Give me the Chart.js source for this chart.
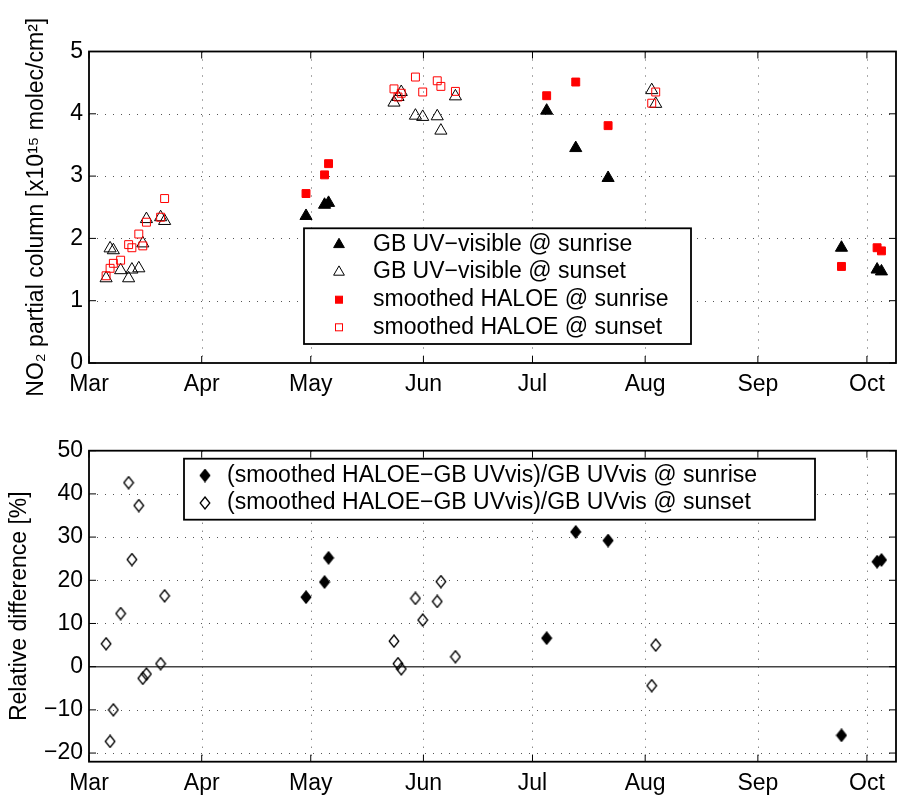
<!DOCTYPE html>
<html>
<head>
<meta charset="utf-8">
<script src="https://cdn.jsdelivr.net/npm/chart.js@4.4.0/dist/chart.umd.min.js"></script>
<style>
  html, body { margin: 0; padding: 0; background: #fff; }
  #wrap { position: relative; width: 897px; height: 795px; }
  #topBox { position: absolute; left: 0; top: 0; width: 897px; height: 400px; }
  #botBox { position: absolute; left: 0; top: 400px; width: 897px; height: 395px; }
</style>
</head>
<body>
<div id="wrap">
  <div id="topBox"><canvas id="topChart" width="897" height="400"></canvas></div>
  <div id="botBox"><canvas id="botChart" width="897" height="395"></canvas></div>
</div>
<script>
// x values are days counted from 1 March
const monthStarts = [0, 31, 61, 92, 122, 153, 184, 214];
const monthLabels = ['Mar', 'Apr', 'May', 'Jun', 'Jul', 'Aug', 'Sep', 'Oct'];

const sunriseDays = [59.7, 64.8, 65.9, 125.9, 133.9, 142.8, 207.0, 216.8, 218.0];
const sunsetDays = [4.7, 5.8, 6.7, 8.7, 10.9, 11.8, 13.7, 14.8, 15.8, 19.7, 20.8,
                    83.9, 85.0, 85.9, 89.8, 91.8, 95.8, 96.8, 100.8, 154.8, 155.9];

// NO2 partial column, x10^15 molec/cm2
const gbSunrise = [2.36, 2.54, 2.57, 4.05, 3.45, 2.97, 1.85, 1.50, 1.47];
const gbSunset = [1.36, 1.84, 1.81, 1.49, 1.36, 1.50, 1.52, 1.92, 2.31, 2.34, 2.28,
                  4.18, 4.27, 4.35, 3.97, 3.95, 3.96, 3.73, 4.28, 4.38, 4.16];
const haloeSunrise = [2.72, 3.02, 3.20, 4.29, 4.51, 3.81, 1.55, 1.85, 1.80];
const haloeSunset = [1.40, 1.52, 1.60, 1.65, 1.90, 1.85, 2.07, 1.88, 2.26, 2.34, 2.64,
                     4.40, 4.27, 4.33, 4.59, 4.35, 4.53, 4.44, 4.36, 4.17, 4.35];

// relative difference, %
const diffSunrise = [16.1, 19.6, 25.2, 6.6, 31.2, 29.2, -15.9, 24.3, 24.7];
const diffSunset = [5.3, -17.3, -10.0, 12.3, 42.6, 24.8, 37.3, -2.7, -1.7, 0.7, 16.4,
                    5.9, 0.7, -0.5, 15.8, 10.8, 15.1, 19.7, 2.3, -4.4, 5.0];

const topTicks = [0, 1, 2, 3, 4, 5];
const bottomTicks = [-20, -10, 0, 10, 20, 30, 40, 50];

const FONT = '"Liberation Sans", Arial, Helvetica, sans-serif';
const pts = (xs, ys) => xs.map((x, i) => ({ x: x, y: ys[i] }));

function diamond(filled) {
  const c = document.createElement('canvas');
  c.width = 12; c.height = 14;
  const g = c.getContext('2d');
  g.beginPath();
  g.moveTo(6, 1); g.lineTo(10.8, 7); g.lineTo(6, 13); g.lineTo(1.2, 7);
  g.closePath();
  if (filled) { g.fillStyle = '#000'; g.fill(); }
  g.lineWidth = 1.3; g.strokeStyle = '#000'; g.stroke();
  return c;
}
const diamondFull = diamond(true);
const diamondOpen = diamond(false);

// dotted grid, zero line, box and inward ticks
const framePlugin = {
  id: 'frame',
  beforeDatasetsDraw(chart, args, o) {
    const { ctx, chartArea: a, scales: { x, y } } = chart;
    ctx.save();
    ctx.strokeStyle = '#555';
    ctx.lineWidth = 1;
    ctx.setLineDash([1, 7]);
    ctx.beginPath();
    x.ticks.forEach(t => {
      const px = Math.round(x.getPixelForValue(t.value)) + 0.5;
      if (px > a.left + 3 && px < a.right - 3) { ctx.moveTo(px, a.top); ctx.lineTo(px, a.bottom); }
    });
    y.ticks.forEach(t => {
      if (o.zeroLine && t.value === 0) return;
      const py = Math.round(y.getPixelForValue(t.value)) + 0.5;
      if (py > a.top + 3 && py < a.bottom - 3) { ctx.moveTo(a.left, py); ctx.lineTo(a.right, py); }
    });
    ctx.stroke();
    ctx.setLineDash([]);
    if (o.zeroLine) {
      const py = y.getPixelForValue(0);
      ctx.strokeStyle = '#444';
      ctx.lineWidth = 1.5;
      ctx.beginPath(); ctx.moveTo(a.left, py); ctx.lineTo(a.right, py); ctx.stroke();
    }
    ctx.restore();
  },
  afterDatasetsDraw(chart) {
    const { ctx, chartArea: a, scales: { x, y } } = chart;
    const tl = 7;
    ctx.save();
    ctx.strokeStyle = '#000';
    ctx.lineWidth = 1;
    ctx.beginPath();
    x.ticks.forEach(t => {
      const px = x.getPixelForValue(t.value);
      ctx.moveTo(px, a.bottom); ctx.lineTo(px, a.bottom - tl);
      ctx.moveTo(px, a.top); ctx.lineTo(px, a.top + tl);
    });
    y.ticks.forEach(t => {
      const py = y.getPixelForValue(t.value);
      ctx.moveTo(a.left, py); ctx.lineTo(a.left + tl, py);
      ctx.moveTo(a.right, py); ctx.lineTo(a.right - tl, py);
    });
    ctx.stroke();
    ctx.lineWidth = 1.8;
    ctx.strokeRect(a.left, a.top, a.right - a.left, a.bottom - a.top);
    ctx.restore();
  }
};

function drawMarker(ctx, ds, x, y) {
  const s = ds.pointStyle;
  ctx.lineWidth = 1;
  ctx.strokeStyle = ds.borderColor;
  ctx.fillStyle = ds.backgroundColor;
  if (s === 'triangle') {
    const r = 6.2;
    ctx.beginPath();
    ctx.moveTo(x, y - r);
    ctx.lineTo(x + 0.866 * r, y + 0.5 * r);
    ctx.lineTo(x - 0.866 * r, y + 0.5 * r);
    ctx.closePath();
    ctx.fill(); ctx.stroke();
  } else if (s === 'rect') {
    const h = 3.5;
    ctx.fillRect(x - h, y - h, 2 * h, 2 * h);
    ctx.strokeRect(x - h, y - h, 2 * h, 2 * h);
  } else {
    ctx.drawImage(s, x - s.width / 2, y - s.height / 2);
  }
}

const legendPlugin = {
  id: 'boxLegend',
  afterDraw(chart, args, o) {
    const ctx = chart.ctx;
    ctx.save();
    ctx.fillStyle = '#fff';
    ctx.fillRect(o.left, o.top, o.right - o.left, o.bottom - o.top);
    ctx.lineWidth = 1.8;
    ctx.strokeStyle = '#000';
    ctx.strokeRect(o.left, o.top, o.right - o.left, o.bottom - o.top);
    ctx.font = '23px ' + FONT;
    ctx.textBaseline = 'middle';
    ctx.textAlign = 'left';
    chart.data.datasets.forEach((ds, i) => {
      const y = o.firstRow + i * o.rowGap;
      drawMarker(ctx, ds, o.markerX, y);
      ctx.fillStyle = '#000';
      ctx.fillText(ds.label, o.textX, y);
    });
    ctx.restore();
  }
};

function xScale(h) {
  return {
    type: 'linear', min: 0, max: 222,
    afterBuildTicks: s => { s.ticks = monthStarts.map(v => ({ value: v })); },
    afterFit: s => { s.height = h; s.paddingLeft = 0; s.paddingRight = 0; },
    grid: { display: false, drawTicks: false },
    border: { display: false },
    ticks: {
      autoSkip: false, maxRotation: 0, padding: 8, color: '#000',
      font: { family: FONT, size: 23 },
      callback: (v, i) => monthLabels[i]
    }
  };
}

function yScale(min, max, tickList, title, titlePad) {
  return {
    type: 'linear', min: min, max: max,
    afterBuildTicks: s => { s.ticks = tickList.map(v => ({ value: v })); },
    afterFit: s => { s.width = 89; s.paddingTop = 0; s.paddingBottom = 0; },
    grid: { display: false, drawTicks: false },
    border: { display: false },
    ticks: {
      padding: 6, color: '#000',
      font: { family: FONT, size: 23 },
      callback: v => String(v).replace('-', '\u2212')
    },
    title: {
      display: true, text: title, color: '#000',
      font: { family: FONT, size: 23 },
      padding: { top: titlePad, bottom: 0 }
    }
  };
}

new Chart(document.getElementById('topChart'), {
  type: 'scatter',
  data: {
    datasets: [
      { label: 'GB UV\u2212visible @ sunrise', data: pts(sunriseDays, gbSunrise), order: 3,
        pointStyle: 'triangle', pointRadius: 7, backgroundColor: '#000', borderColor: '#000', borderWidth: 1 },
      { label: 'GB UV\u2212visible @ sunset', data: pts(sunsetDays, gbSunset), order: 2,
        pointStyle: 'triangle', pointRadius: 7, backgroundColor: 'rgba(0,0,0,0)', borderColor: '#000', borderWidth: 1 },
      { label: 'smoothed HALOE @ sunrise', data: pts(sunriseDays, haloeSunrise), order: 1,
        pointStyle: 'rect', pointRadius: 5.6, backgroundColor: '#ff0000', borderColor: '#ff0000', borderWidth: 1 },
      { label: 'smoothed HALOE @ sunset', data: pts(sunsetDays, haloeSunset), order: 0,
        pointStyle: 'rect', pointRadius: 5.6, backgroundColor: 'rgba(0,0,0,0)', borderColor: '#ff0000', borderWidth: 1 }
    ]
  },
  options: {
    responsive: false,
    animation: false,
    layout: { autoPadding: false, padding: { top: 51.5, left: 0, right: 1, bottom: 0 } },
    scales: {
      x: xScale(37),
      y: yScale(0, 5, topTicks, 'NO\u2082 partial column [x10\u00b9\u2075 molec/cm\u00b2]', 23)
    },
    plugins: {
      legend: { display: false },
      tooltip: { enabled: false },
      frame: { zeroLine: false },
      boxLegend: { left: 304, top: 228.3, right: 691, bottom: 344, firstRow: 244.5, rowGap: 27.6, markerX: 339, textX: 373 }
    }
  },
  plugins: [framePlugin, legendPlugin]
});

new Chart(document.getElementById('botChart'), {
  type: 'scatter',
  data: {
    datasets: [
      { label: '(smoothed HALOE\u2212GB UVvis)/GB UVvis @ sunrise', data: pts(sunriseDays, diffSunrise),
        pointStyle: diamondFull, backgroundColor: '#000', borderColor: '#000' },
      { label: '(smoothed HALOE\u2212GB UVvis)/GB UVvis @ sunset', data: pts(sunsetDays, diffSunset),
        pointStyle: diamondOpen, backgroundColor: 'rgba(0,0,0,0)', borderColor: '#000' }
    ]
  },
  options: {
    responsive: false,
    animation: false,
    layout: { autoPadding: false, padding: { top: 50.7, left: 0, right: 1, bottom: 0 } },
    scales: {
      x: xScale(33.3),
      y: yScale(-22, 50, bottomTicks, 'Relative difference [%]', 6)
    },
    plugins: {
      legend: { display: false },
      tooltip: { enabled: false },
      frame: { zeroLine: true },
      boxLegend: { left: 184, top: 58.7, right: 815, bottom: 119.7, firstRow: 75.5, rowGap: 27.5, markerX: 205, textX: 227 }
    }
  },
  plugins: [framePlugin, legendPlugin]
});
</script>
</body>
</html>
